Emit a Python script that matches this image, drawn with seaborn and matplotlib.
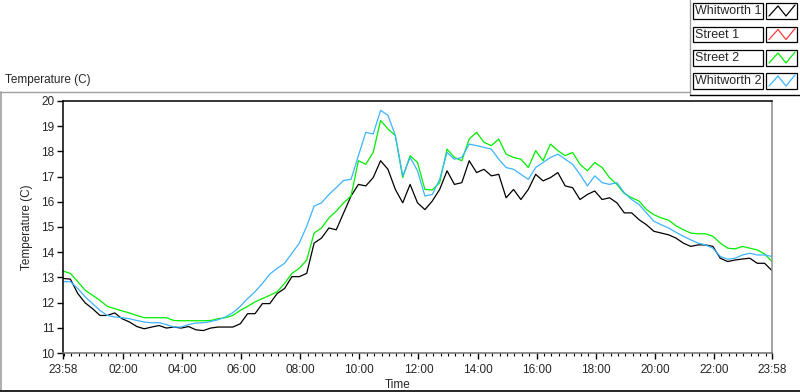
import pandas as pd
import seaborn as sns
import matplotlib.pyplot as plt
from matplotlib.lines import Line2D
from matplotlib.patches import Rectangle

# readings every 15 minutes, 23:58 -> 23:58 next day
series_names = ['Whitworth 1', 'Street 1', 'Street 2', 'Whitworth 2']
series_colors = ['#000000', '#ff3c3c', '#00ee00', '#3cb4ff']

whitworth_1 = [12.96, 12.93, 12.36, 11.99, 11.76, 11.49, 11.49, 11.59, 11.36, 11.23, 11.05, 10.96,
               11.03, 11.09, 10.99, 11.03, 10.99, 11.05, 10.92, 10.89, 10.99, 11.03, 11.03, 11.03,
               11.16, 11.56, 11.56, 11.96, 11.96, 12.36, 12.56, 13.03, 13.03, 13.16, 14.36, 14.56,
               14.96, 14.89, 15.56, 16.23, 16.69, 16.63, 16.96, 17.63, 17.29, 16.49, 15.96, 16.69,
               15.96, 15.69, 16.03, 16.49, 17.23, 16.69, 16.76, 17.63, 17.16, 17.29, 17.03, 17.09,
               16.16, 16.49, 16.09, 16.49, 17.09, 16.83, 16.96, 17.16, 16.63, 16.56, 16.09, 16.29,
               16.43, 16.09, 16.16, 15.96, 15.56, 15.56, 15.29, 15.09, 14.83, 14.76, 14.69, 14.56,
               14.36, 14.23, 14.29, 14.29, 14.23, 13.76, 13.63, 13.69, 13.73, 13.76, 13.56, 13.56,
               13.27]
street_1 = []  # nothing plotted for this channel
street_2 = [13.25, 13.16, 12.83, 12.49, 12.29, 12.09, 11.85, 11.76, 11.67, 11.59, 11.49, 11.40,
            11.40, 11.40, 11.40, 11.29, 11.28, 11.28, 11.28, 11.28, 11.29, 11.36, 11.40, 11.49,
            11.69, 11.85, 12.03, 12.16, 12.29, 12.43, 12.76, 13.16, 13.36, 13.69, 14.76, 14.96,
            15.36, 15.63, 15.96, 16.23, 17.63, 17.49, 17.96, 19.23, 18.89, 18.63, 16.96, 17.83,
            17.56, 16.49, 16.47, 16.76, 18.09, 17.76, 17.63, 18.49, 18.76, 18.36, 18.23, 18.49,
            17.89, 17.76, 17.69, 17.36, 18.03, 17.63, 18.29, 18.03, 17.83, 17.96, 17.49, 17.23,
            17.56, 17.36, 16.96, 16.69, 16.33, 16.16, 16.03, 15.69, 15.49, 15.36, 15.27, 15.05,
            14.89, 14.76, 14.73, 14.73, 14.63, 14.36, 14.16, 14.13, 14.23, 14.16, 14.09, 13.93,
            13.63]
whitworth_2 = [12.83, 12.83, 12.56, 12.23, 11.96, 11.69, 11.49, 11.43, 11.40, 11.36, 11.29, 11.23,
               11.20, 11.20, 11.13, 11.03, 11.03, 11.13, 11.19, 11.20, 11.25, 11.32, 11.43, 11.60,
               11.85, 12.16, 12.43, 12.76, 13.13, 13.36, 13.56, 13.96, 14.36, 15.03, 15.83, 15.96,
               16.29, 16.56, 16.85, 16.89, 17.83, 18.76, 18.69, 19.63, 19.43, 18.63, 17.03, 17.76,
               17.23, 16.23, 16.29, 16.89, 17.96, 17.69, 17.76, 18.29, 18.23, 18.16, 18.09, 17.69,
               17.36, 17.29, 17.09, 16.89, 17.36, 17.56, 17.76, 17.89, 17.69, 17.49, 17.09, 16.63,
               17.03, 16.76, 16.69, 16.76, 16.36, 16.09, 15.89, 15.56, 15.23, 15.09, 14.96, 14.79,
               14.63, 14.49, 14.36, 14.29, 14.16, 13.83, 13.72, 13.76, 13.89, 13.96, 13.89, 13.89,
               13.83]

tick_labels = ['23:58', '02:00', '04:00', '06:00', '08:00', '10:00', '12:00',
               '14:00', '16:00', '18:00', '20:00', '22:00', '23:58']
tick_times = pd.to_datetime(['2013-07-01 23:58'] +
                            ['2013-07-02 %02d:00' % h for h in range(2, 23, 2)] +
                            ['2013-07-02 23:58'])

times = pd.date_range('2013-07-01 23:58', periods=len(whitworth_1), freq='15min')
frames = []
for name, vals in zip(series_names, [whitworth_1, street_1, street_2, whitworth_2]):
    if len(vals):
        frames.append(pd.DataFrame({'Time': times[:len(vals)], 'Temp': vals, 'Series': name}))
data = pd.concat(frames)

sns.set_style('white')
plt.rcParams['font.family'] = ['Liberation Sans', 'DejaVu Sans']
plt.rcParams['font.size'] = 8.5

fig = plt.figure(figsize=(8, 3.92), dpi=100)
ax = fig.add_axes([63 / 800, 1 - 353 / 392, 709 / 800, 252 / 392])

palette = dict(zip(series_names, series_colors))
sns.lineplot(data=data, x='Time', y='Temp', hue='Series', palette=palette,
             hue_order=[n for n in series_names if n in data['Series'].unique()],
             linewidth=0.9, legend=False, ax=ax)

ax.set_xlim(tick_times[0], tick_times[-1])
ax.set_ylim(10, 20)
ax.set_yticks(range(10, 21))
ax.set_xticks(tick_times)
ax.set_xticklabels(tick_labels)
ax.set_xticks(pd.date_range('2013-07-02 00:00', '2013-07-02 23:45', freq='15min'), minor=True)
ax.tick_params(axis='both', which='major', direction='out', length=4, width=1,
               color='black', labelsize=8.5, pad=2, bottom=True, left=True)
ax.tick_params(axis='x', which='major', pad=4)
ax.tick_params(axis='x', which='minor', direction='out', length=2.5, width=0.8,
               color='black', bottom=True)

for side, col in [('top', 'black'), ('left', 'black'), ('right', '#8c8c8c'), ('bottom', '#6e6e6e')]:
    ax.spines[side].set_visible(True)
    ax.spines[side].set_color(col)
    ax.spines[side].set_linewidth(1.1)

ax.set_xlabel('Time', fontsize=8.5)
ax.xaxis.set_label_coords((398 - 63) / 709, -0.104)
ax.set_ylabel('Temperature (C)', fontsize=8.5)
ax.yaxis.set_label_coords(-0.043, 0.5)

# outer chart frame
def fx(px):
    return px / 800

def fy(py):
    return 1 - py / 392

fig.add_artist(Line2D([fx(0), fx(690)], [fy(91.5), fy(91.5)], color='#a0a0a0', lw=1))
fig.add_artist(Line2D([fx(690), fx(690)], [fy(0), fy(95)], color='#a0a0a0', lw=1))
fig.add_artist(Line2D([fx(690), fx(800)], [fy(95), fy(95)], color='black', lw=1))
fig.add_artist(Line2D([fx(1), fx(1)], [fy(91.5), fy(390)], color='#a0a0a0', lw=1.2))
fig.add_artist(Line2D([fx(0), fx(800)], [fy(390.5), fy(390.5)], color='black', lw=1.2))
fig.text(fx(5), fy(80), 'Temperature (C)', fontsize=8.5, va='center', ha='left')

# LabVIEW style plot legend
row_tops = [3, 26.5, 50, 73]
for name, col, top in zip(series_names, series_colors, row_tops):
    fig.add_artist(Rectangle((fx(692.5), fy(top + 15.5)), fx(70), 15.5 / 392,
                             facecolor='white', edgecolor='black', lw=0.9))
    fig.text(fx(695), fy(top + 8), name, fontsize=9, va='center', ha='left')
    fig.add_artist(Rectangle((fx(766), fy(top + 15.5)), fx(31), 15.5 / 392,
                             facecolor='white', edgecolor='black', lw=0.9))
    zx = [769, 778, 786, 795]
    zy = [top + 13, top + 3, top + 13, top + 2]
    fig.add_artist(Line2D([fx(v) for v in zx], [fy(v) for v in zy], color=col, lw=0.9))

fig.savefig('out.png', dpi=100)
